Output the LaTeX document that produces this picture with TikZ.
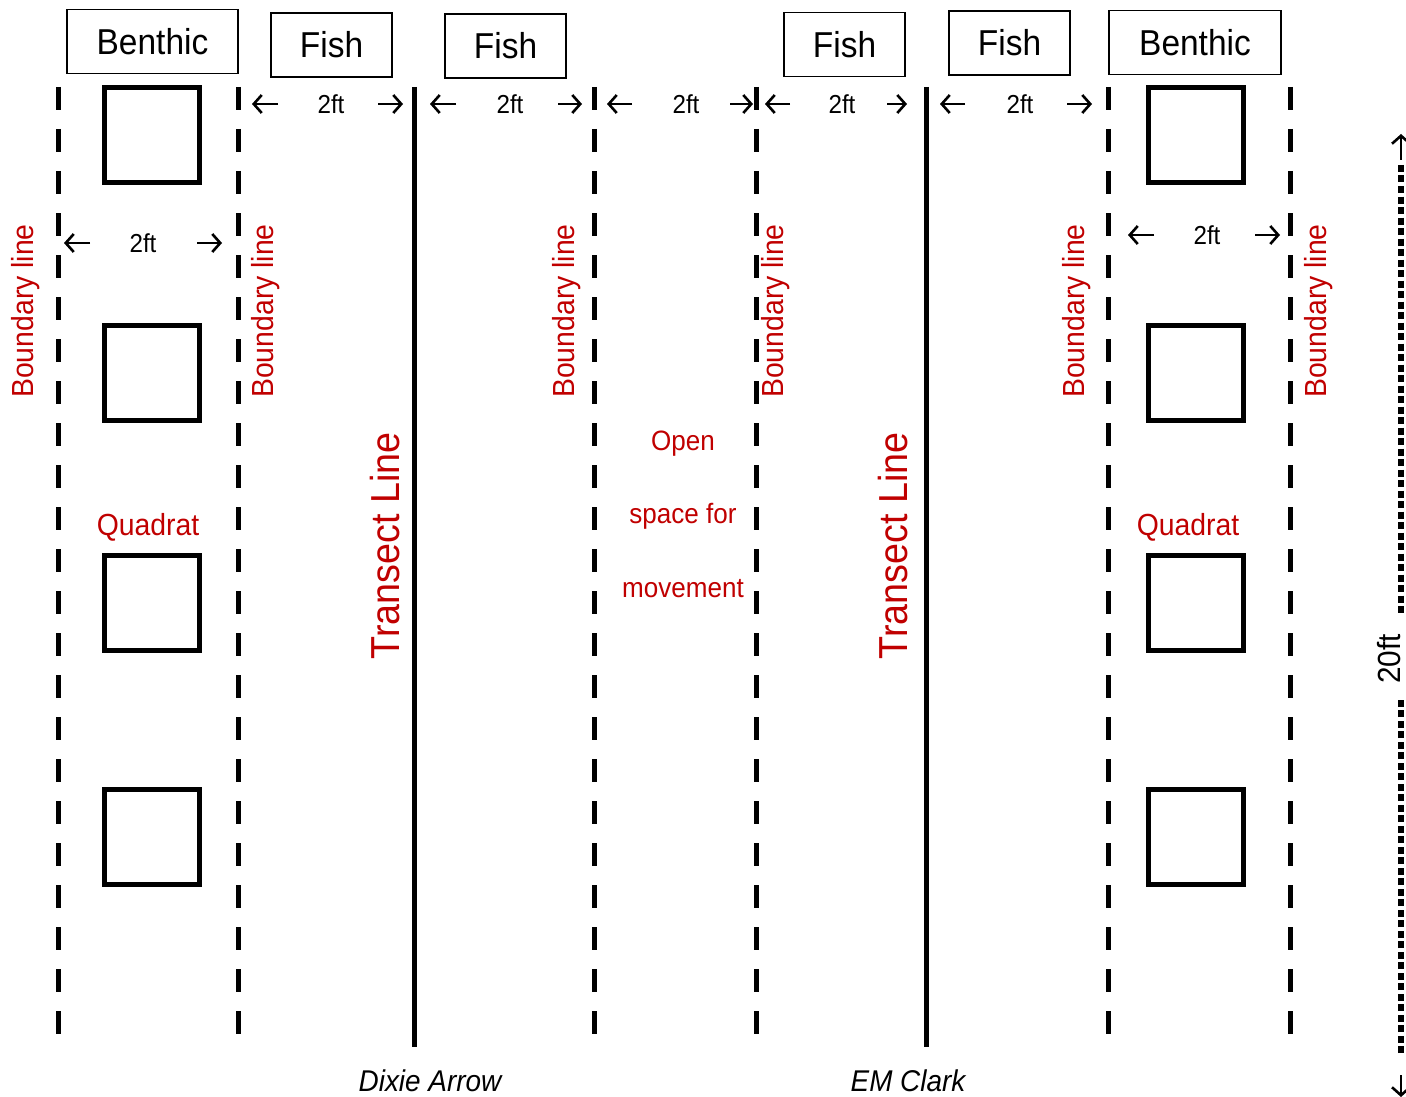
\documentclass[tikz,border=0pt]{standalone}
\usepackage{fontspec}
\setmainfont[FakeStretch=0.93]{Liberation Sans}
\usetikzlibrary{arrows.meta,positioning}
\definecolor{plotRed}{HTML}{C00000}

\tikzset{
  boundary/.style={line width=5pt,dash pattern=on 23pt off 19pt},
  transect/.style={line width=5pt},
  headbox/.style={draw,line width=1.6pt,minimum height=64pt,inner sep=0pt,
    font=\fontsize{36}{40}\selectfont},
  quadrat/.style={draw,line width=5pt,minimum size=95pt,inner sep=0pt},
  redlabel/.style={text=plotRed,font=\fontsize{30.5}{34}\selectfont},
  sidelabel/.style={redlabel,rotate=90},
  gaplabel/.style={font=\fontsize{26}{29}\selectfont},
  gaparrow/.style={line width=2.6pt,-{Straight Barb[length=8pt,width=18pt]}},
  ruler/.style={line width=6pt,dash pattern=on 7pt off 3.5pt},
}

\begin{document}
\begin{tikzpicture}[x=1pt,y=-1pt]
  \useasboundingbox (0,0) rectangle (1406,1097);

  % header boxes
  \node[headbox,minimum width=171pt] (benthicL) at (152.5,41.5) {Benthic};
  \node[headbox,minimum width=121pt] (fishA) at (331.5,45) {Fish};
  \node[headbox,minimum width=121pt] (fishB) at (505.5,46) {Fish};
  \node[headbox,minimum width=121pt] (fishC) at (844.5,44.5) {Fish};
  \node[headbox,minimum width=121pt] (fishD) at (1009.5,43) {Fish};
  \node[headbox,minimum width=172pt] (benthicR) at (1195,42.5) {Benthic};

  % boundary and transect lines
  \foreach \bx in {58,238,594,756,1108,1290}
    \draw[boundary] (\bx,87) -- (\bx,1035);
  \foreach \tx in {414,926}
    \draw[transect] (\tx,87) -- (\tx,1047);

  % quadrats
  \foreach \qy [count=\i] in {135,373,603,837} {
    \node[quadrat] (quadL\i) at (152,\qy) {};
    \node[quadrat] (quadR\i) at (1196,\qy) {};
  }

  % 2ft spacings
  \foreach \la/\lb/\mx/\ra/\rb/\yy [count=\i] in
    {252/278/331/378/403/104, 430/456/510/558/582/104,
     607/632/686/730/753/104, 765/790/842/887/907/104,
     940/965/1020/1067/1092/104, 64/90/143/197/222/243,
     1128/1154/1207/1255/1280/235} {
    \node[gaplabel] (gap\i) at (\mx,\yy) {2ft};
    \draw[gaparrow] (\lb,\yy) -- (\la,\yy);
    \draw[gaparrow] (\ra,\yy) -- (\rb,\yy);
  }

  % red labels
  \foreach \sx [count=\i] in {26,266,567,776,1077,1319}
    \node[sidelabel] (bound\i) at (\sx,311) {Boundary line};
  \node[redlabel,rotate=90,font=\fontsize{40.5}{44}\selectfont] (transA) at (385,546) {Transect Line};
  \node[redlabel,rotate=90,font=\fontsize{40.5}{44}\selectfont] (transB) at (893,546) {Transect Line};
  \node[redlabel] (quadTextL) at (148,527) {Quadrat};
  \node[redlabel] (quadTextR) at (1188,527) {Quadrat};
  \node[redlabel,font=\fontsize{28}{32}\selectfont,anchor=base] (open1) at (683,450) {Open};
  \node[redlabel,font=\fontsize{28}{32}\selectfont,anchor=base] (open2) at (683,523) {space for};
  \node[redlabel,font=\fontsize{28}{32}\selectfont,anchor=base] (open3) at (683,597) {movement};

  % site names
  \node[anchor=base,font=\fontsize{30}{34}\selectfont\itshape] (dixie) at (430,1091) {Dixie Arrow};
  \node[anchor=base,font=\fontsize{30}{34}\selectfont\itshape] (clark) at (908,1091) {EM Clark};

  % 20ft ruler
  \node[rotate=90,anchor=south,inner sep=0pt,font=\fontsize{32}{36}\selectfont] (height) at (1401,659) {20ft};
  \coordinate (rulerTop) at (1401,165);
  \coordinate (rulerBot) at (1401,1053);
  \draw[ruler,shorten >=20pt] (rulerTop) -- (rulerTop |- height.east);
  \draw[ruler,shorten >=16pt] (rulerBot) -- (rulerBot |- height.west);
  \draw[gaparrow] (1401,160) -- (1401,134);
  \draw[gaparrow] (1401,1075) -- (1401,1097);
\end{tikzpicture}
\end{document}
